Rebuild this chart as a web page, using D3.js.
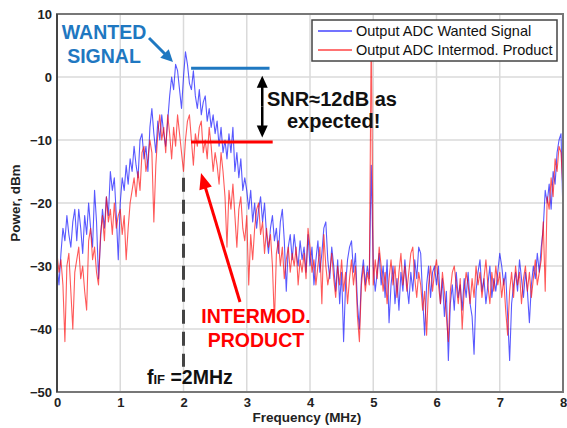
<!DOCTYPE html>
<html>
<head>
<meta charset="utf-8">
<script src="https://cdn.jsdelivr.net/npm/d3@7"></script>
<style>
  html, body { margin: 0; padding: 0; background: #fff; }
  svg { display: block; font-family: "Liberation Sans", Arial, sans-serif; }
</style>
</head>
<body>
<div id="chart"></div>
<script>
// Spectrum, 32 bins per MHz (0 .. 8 MHz)
var binsPerMHz = 32;

// Output ADC Wanted Signal (dBm)
var wantedSignal = [
  -30,-33,-28,-24,-26,-22,-25,-27,-23,-21,-26,-21,-24,-28,-22,-25,-20,-24,-27,-18,-23,-32,-26,-21,-24,-19,-22,-15,-18,-16,-22,-29,
  -20,-16,-18,-14,-17,-13,-15,-11,-14,-16,-10,-9,-13,-11,-15,-8,-5,-9,-12,-7,-10,-6,-9,-11,-7,-3,0,-2,2,1,-2,-5,
  0,4,2,-1,-2,1,-3,-5,-2,-6,-4,-3,-7,-5,-8,-6,-9,-7,-11,-8,-12,-10,-13,-9,-12,-8,-15,-12,-16,-13,-18,-16,
  -18,-21,-18,-23,-20,-24,-21,-19,-23,-20,-25,-28,-24,-22,-26,-24,-28,-23,-21,-26,-34,-27,-25,-29,-25,-28,-30,-26,-29,-27,-31,-25,
  -30,-27,-33,-29,-26,-31,-28,-24,-23,-29,-32,-27,-30,-34,-29,-36,-31,-42,-33,-29,-27,-26,-31,-28,-36,-40,-32,-29,-33,-30,-32,-14,
  -30,-34,-31,-28,-33,-30,-35,-29,-39,-33,-30,-36,-32,-37,-31,-34,-29,-33,-36,-31,-34,-29,-32,-27,-28,-35,-41,-33,-30,-35,-31,-30,
  -33,-30,-36,-32,-38,-34,-45,-36,-33,-37,-31,-35,-33,-37,-32,-35,-31,-36,-38,-44,-34,-31,-29,-34,-32,-36,-33,-30,-35,-32,-34,-31,
  -28,-30,-33,-31,-38,-45,-36,-33,-31,-34,-29,-32,-35,-31,-34,-39,-33,-30,-32,-28,-31,-27,-24,-18,-20,-17,-21,-15,-17,-12,-10,-9,-22
];

// Output ADC Intermod. Product (dBm)
var intermodProduct = [
  -28,-31,-29,-33,-42,-30,-28,-34,-40,-31,-29,-27,-32,-30,-34,-37,-26,-24,-29,-27,-31,-33,-25,-22,-26,-19,-23,-21,-25,-20,-24,-22,
  -21,-25,-22,-29,-24,-20,-18,-16,-19,-15,-18,-12,-11,-15,-13,-10,-12,-23,-14,-9,-6,-10,-8,-12,-6,-9,-13,-8,-11,-6,-9,-12,
  -15,-10,-7,-6,-10,-14,-9,-11,-8,-7,-12,-10,-13,-8,-11,-15,-12,-14,-17,-12,-15,-19,-27,-18,-21,-17,-22,-27,-21,-19,-24,-26,
  -22,-33,-25,-29,-24,-21,-20,-25,-23,-28,-24,-27,-25,-30,-39,-28,-26,-30,-27,-32,-29,-27,-31,-28,-30,-27,-33,-29,-31,-28,-32,-24,
  -27,-31,-29,-33,-30,-27,-36,-25,-30,-33,-31,-28,-32,-35,-30,-33,-29,-34,-31,-36,-32,-29,-33,-30,-38,-42,-33,-30,-34,-31,-33,8,
  -33,-29,-32,-27,-30,-34,-31,-36,-32,-29,-33,-30,-35,-31,-28,-33,-30,-34,-31,-28,-27,-32,-35,-31,-33,-37,-34,-41,-33,-30,-34,-31,
  -29,-33,-36,-31,-34,-38,-42,-34,-31,-30,-33,-36,-32,-40,-34,-31,-33,-36,-32,-35,-30,-33,-31,-35,-32,-29,-33,-36,-31,-34,-30,-33,
  -31,-35,-32,-37,-41,-34,-31,-35,-30,-33,-31,-36,-32,-30,-34,-31,-35,-32,-29,-33,-31,-29,-23,-34,-19,-21,-16,-19,-13,-15,-11,-12,-18
];

var xTickValues = [0, 1, 2, 3, 4, 5, 6, 7, 8];
var yTickValues = [-50, -40, -30, -20, -10, 0, 10];
var seriesNames = ["Output ADC Wanted Signal", "Output ADC Intermod. Product"];
var seriesColors = ["#0000ff", "#ff0000"];

var chartWidth = 567, chartHeight = 428;
var margin = {top: 14, right: 4, bottom: 36, left: 57}
  , width = chartWidth - margin.left - margin.right
  , height = chartHeight - margin.top - margin.bottom;

var xScale = d3.scaleLinear().domain([0, 8]).range([0, width]);
var yScale = d3.scaleLinear().domain([-50, 10]).range([height, 0]);

var line = d3.line()
    .x(function(d, i) { return xScale(i / binsPerMHz); })
    .y(function(d) { return yScale(d); });

var root = d3.select("#chart").append("svg")
    .attr("width", chartWidth)
    .attr("height", chartHeight);

root.append("defs").append("clipPath").attr("id", "plotClip")
  .append("rect").attr("width", width).attr("height", height);

var svg = root.append("g")
    .attr("transform", "translate(" + margin.left + "," + margin.top + ")");

// grid
svg.append("g").selectAll("line.vgrid").data(xTickValues).enter().append("line")
    .attr("x1", function(d) { return xScale(d); })
    .attr("x2", function(d) { return xScale(d); })
    .attr("y1", 0).attr("y2", height)
    .style("stroke", "#dadada").style("stroke-width", 1.5);
svg.append("g").selectAll("line.hgrid").data(yTickValues).enter().append("line")
    .attr("y1", function(d) { return yScale(d); })
    .attr("y2", function(d) { return yScale(d); })
    .attr("x1", 0).attr("x2", width)
    .style("stroke", "#dadada").style("stroke-width", 1.5);

// data lines
var plot = svg.append("g").attr("clip-path", "url(#plotClip)");
[wantedSignal, intermodProduct].forEach(function(series, k) {
  plot.append("path")
      .datum(series)
      .attr("d", line)
      .style("fill", "none")
      .style("stroke", seriesColors[k])
      .style("stroke-opacity", 0.65)
      .style("stroke-width", 1.1)
      .style("stroke-linejoin", "round");
});

// frame
svg.append("rect")
    .attr("width", width).attr("height", height)
    .style("fill", "none").style("stroke", "#777").style("stroke-width", 2);
svg.append("line")
    .attr("x1", 0).attr("x2", 0).attr("y1", 0).attr("y2", height)
    .style("stroke", "#444").style("stroke-width", 2);

// axes (labels only)
var xAxis = svg.append("g")
    .attr("transform", "translate(0," + height + ")")
    .call(d3.axisBottom(xScale).tickValues(xTickValues).tickSize(0).tickPadding(6).tickFormat(d3.format("d")));
var yAxis = svg.append("g")
    .call(d3.axisLeft(yScale).tickValues(yTickValues).tickSize(0).tickPadding(5).tickFormat(d3.format("d")));
[xAxis, yAxis].forEach(function(ax) {
  ax.select(".domain").remove();
  ax.selectAll("text")
      .style("font-family", "Liberation Sans, Arial, sans-serif")
      .style("font-size", "13px")
      .style("font-weight", "bold")
      .style("fill", "#222");
});

root.append("text")
    .attr("x", margin.left + width / 2 - 3).attr("y", 422)
    .attr("text-anchor", "middle")
    .style("font-size", "13.5px").style("font-weight", "bold").style("fill", "#222")
    .text("Frequency (MHz)");
root.append("text")
    .attr("transform", "translate(20," + (margin.top + height / 2) + ") rotate(-90)")
    .attr("text-anchor", "middle")
    .style("font-size", "13.5px").style("font-weight", "bold").style("fill", "#222")
    .text("Power, dBm");

// arrow helper: shaft + filled head at (x2,y2)
function arrow(g, x1, y1, x2, y2, color, w, headLen, headW) {
  var dx = x2 - x1, dy = y2 - y1, len = Math.sqrt(dx * dx + dy * dy);
  var ux = dx / len, uy = dy / len;
  var bx = x2 - ux * headLen, by = y2 - uy * headLen;
  g.append("line")
      .attr("x1", x1).attr("y1", y1).attr("x2", bx + ux).attr("y2", by + uy)
      .style("stroke", color).style("stroke-width", w);
  g.append("path")
      .attr("d", "M" + x2 + "," + y2 +
                 "L" + (bx - uy * headW / 2) + "," + (by + ux * headW / 2) +
                 "L" + (bx + uy * headW / 2) + "," + (by - ux * headW / 2) + "Z")
      .style("fill", color);
}

var ann = svg.append("g");
var steel = "#1f78c1";

// level markers
ann.append("line")
    .attr("x1", xScale(2.12)).attr("x2", xScale(3.36))
    .attr("y1", yScale(1.4)).attr("y2", yScale(1.4))
    .style("stroke", steel).style("stroke-width", 3);
ann.append("line")
    .attr("x1", xScale(2.12)).attr("x2", xScale(3.41))
    .attr("y1", yScale(-10.3)).attr("y2", yScale(-10.3))
    .style("stroke", "#ff0000").style("stroke-width", 3);

// SNR double arrow
var ax = xScale(3.245), yTop = yScale(0.2), yBot = yScale(-9.6), mid = (yTop + yBot) / 2;
arrow(ann, ax, mid, ax, yTop, "#000", 2.5, 12, 11);
arrow(ann, ax, mid, ax, yBot, "#000", 2.5, 12, 11);

// f_IF dashed marker
ann.append("line")
    .attr("x1", xScale(2)).attr("x2", xScale(2))
    .attr("y1", yScale(-16)).attr("y2", yScale(-46))
    .style("stroke", "#444").style("stroke-width", 3)
    .style("stroke-dasharray", "14,8");

// pointer arrows (pixel coords)
arrow(root, 149, 38, 173, 62, steel, 3, 12, 12);
arrow(root, 240, 302, 201, 173, "#ff0000", 3, 16, 13);

// annotation texts
function label(x, y, txt, color, size, anchor) {
  return root.append("text")
      .attr("x", x).attr("y", y)
      .attr("text-anchor", anchor || "start")
      .style("font-size", size + "px").style("font-weight", "bold")
      .style("fill", color)
      .text(txt);
}
label(104, 39, "WANTED", steel, 19.5, "middle");
label(104, 63, "SIGNAL", steel, 19.5, "middle");
label(267, 106, "SNR\u224812dB as", "#111", 20);
label(287, 128, "expected!", "#111", 20);
label(256, 323, "INTERMOD.", "#ff0000", 19.5, "middle");
label(256, 347, "PRODUCT", "#ff0000", 19.5, "middle");

var fif = root.append("text")
    .attr("x", 147).attr("y", 384)
    .style("font-weight", "bold").style("fill", "#111");
fif.append("tspan").style("font-size", "19.5px").text("f");
fif.append("tspan").style("font-size", "13px").text("IF");
fif.append("tspan").style("font-size", "19.5px").text(" =2MHz");

// legend
var legend = root.append("g");
legend.append("rect")
    .attr("x", 312).attr("y", 20).attr("width", 245).attr("height", 41)
    .style("fill", "#fff").style("stroke", "#444").style("stroke-width", 1.5);
seriesNames.forEach(function(name, k) {
  var ly = 31 + k * 19;
  legend.append("line")
      .attr("x1", 318).attr("x2", 352).attr("y1", ly).attr("y2", ly)
      .style("stroke", seriesColors[k]).style("stroke-opacity", 0.55).style("stroke-width", 2);
  legend.append("text")
      .attr("x", 356).attr("y", ly + 5)
      .style("font-size", "14.5px").style("fill", "#111")
      .text(name);
});
</script>
</body>
</html>
